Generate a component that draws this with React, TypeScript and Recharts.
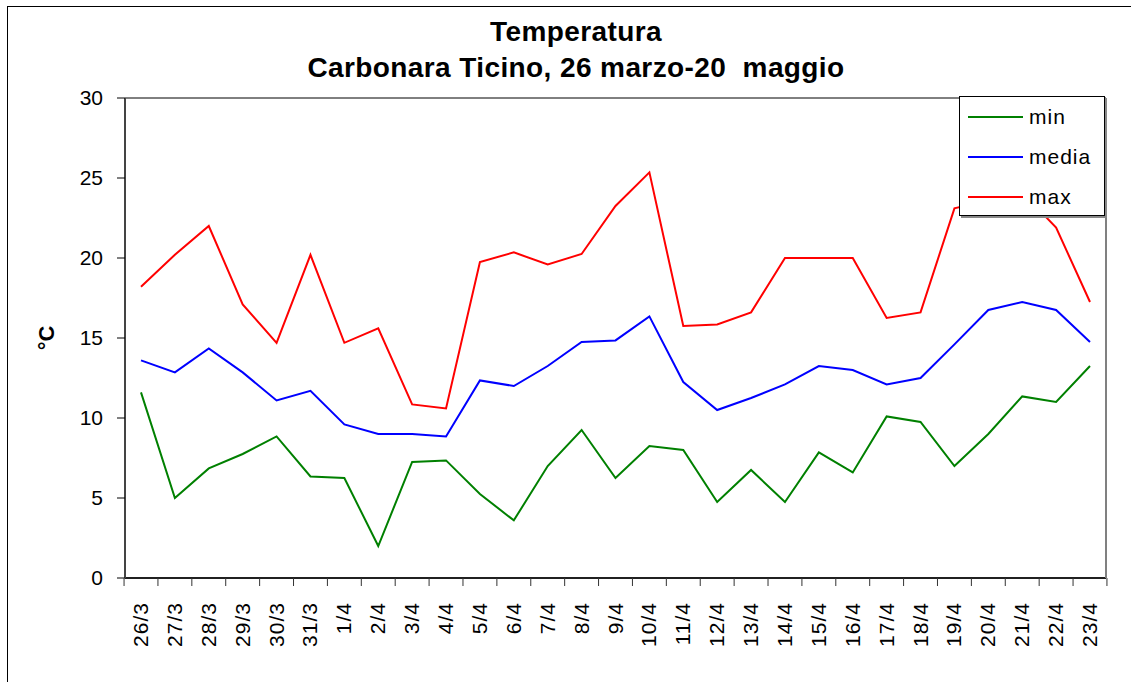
import { CartesianGrid, Legend, Line, LineChart, XAxis, YAxis } from 'recharts';

const dates = [
  '26/3', '27/3', '28/3', '29/3', '30/3', '31/3', '1/4', '2/4', '3/4', '4/4',
  '5/4', '6/4', '7/4', '8/4', '9/4', '10/4', '11/4', '12/4', '13/4', '14/4',
  '15/4', '16/4', '17/4', '18/4', '19/4', '20/4', '21/4', '22/4', '23/4',
];
const minTemp = [
  11.6, 5.0, 6.85, 7.75, 8.85, 6.35, 6.25, 2.0, 7.25, 7.35,
  5.25, 3.6, 7.0, 9.25, 6.25, 8.25, 8.0, 4.75, 6.75, 4.75,
  7.85, 6.6, 10.1, 9.75, 7.0, 9.0, 11.35, 11.0, 13.25,
];
const mediaTemp = [
  13.6, 12.85, 14.35, 12.85, 11.1, 11.7, 9.6, 9.0, 9.0, 8.85,
  12.35, 12.0, 13.25, 14.75, 14.85, 16.35, 12.25, 10.5, 11.25, 12.1,
  13.25, 13.0, 12.1, 12.5, 14.6, 16.75, 17.25, 16.75, 14.75,
];
const maxTemp = [
  18.2, 20.2, 22.0, 17.1, 14.7, 20.2, 14.7, 15.6, 10.85, 10.6,
  19.75, 20.35, 19.6, 20.25, 23.25, 25.35, 15.75, 15.85, 16.6, 20.0,
  20.0, 20.0, 16.25, 16.6, 23.1, 23.6, 24.1, 21.9, 17.25,
];
const yTicks = [0, 5, 10, 15, 20, 25, 30];

const series = [
  { key: 'min', color: '#008000' },
  { key: 'media', color: '#0000FF' },
  { key: 'max', color: '#FF0000' },
];

const data = dates.map((d, i) => ({ d, min: minTemp[i], media: mediaTemp[i], max: maxTemp[i] }));

const FONT = '"Liberation Sans", Arial, sans-serif';
const PAD = 16;
const HALF = (981 - 2 * PAD) / (dates.length - 1) / 2;

const DateTick = (props: any) => {
  const { x, y, payload } = props;
  const last = payload.value === dates[dates.length - 1];
  return (
    <g>
      <line x1={x - HALF} x2={x - HALF} y1={y - 10} y2={y - 2} stroke="#333" />
      {last && <line x1={x + HALF} x2={x + HALF} y1={y - 10} y2={y - 2} stroke="#333" />}
      <text
        transform={`translate(${x + 7},${y + 14}) rotate(-90)`}
        textAnchor="end"
        fontSize={21}
        letterSpacing={1}
        fill="#000"
        fontFamily={FONT}
      >
        {payload.value}
      </text>
    </g>
  );
};

const LegendBox = () => (
  <div
    style={{
      width: 144,
      height: 118,
      background: '#fff',
      border: '1px solid #000',
      boxShadow: '2px 2px 0 #888',
      fontFamily: FONT,
      fontSize: 21,
      letterSpacing: 1,
    }}
  >
    {series.map((s, i) => (
      <div key={s.key} style={{ position: 'absolute', left: 9, top: 9 + i * 40, height: 24, display: 'flex', alignItems: 'center' }}>
        <div style={{ width: 55, height: 2, background: s.color }} />
        <span style={{ marginLeft: 6, lineHeight: '24px' }}>{s.key}</span>
      </div>
    ))}
  </div>
);

export default function App() {
  return (
    <div style={{ position: 'absolute', left: 0, top: 0, width: 1131, height: 682, overflow: 'hidden', background: '#fff', fontFamily: FONT }}>
      <div style={{ position: 'absolute', left: 7, top: 6, width: 1200, height: 800, border: '1px solid #000' }} />
      <div style={{ position: 'absolute', left: 0, width: 1152, top: 14, textAlign: 'center', fontWeight: 'bold', fontSize: 28, letterSpacing: 0.4, lineHeight: '36px' }}>
        Temperatura
        <br />
        Carbonara Ticino, 26 marzo-20&nbsp; maggio
      </div>
      <LineChart width={1131} height={682} data={data} margin={{ top: 98, right: 0, left: 0, bottom: 0 }}>
        <CartesianGrid vertical={false} stroke="#000" strokeWidth={1} />
        <XAxis
          dataKey="d"
          height={104}
          padding={{ left: PAD, right: PAD }}
          interval={0}
          tickSize={8}
          tickLine={false}
          axisLine={{ stroke: '#000', strokeWidth: 1.5 }}
          tick={<DateTick />}
        />
        <YAxis
          yAxisId="left"
          width={125}
          domain={[0, 30]}
          ticks={yTicks}
          interval={0}
          tickSize={8}
          tickMargin={14}
          axisLine={{ stroke: '#444', strokeWidth: 2 }}
          tickLine={{ stroke: '#000' }}
          tick={{ fontSize: 21, fill: '#000', fontFamily: FONT }}
          label={{
            position: 'insideLeft',
            content: (p: any) => {
              const vb = p.viewBox || { x: 0, y: 98, height: 480 };
              const cx = vb.x + 46;
              const cy = vb.y + vb.height / 2;
              return (
                <text x={cx} y={cy} transform={`rotate(-90, ${cx}, ${cy})`} textAnchor="middle" dominantBaseline="central" fontWeight="bold" fontSize={22} fontFamily={FONT} fill="#000">
                  °C
                </text>
              );
            },
          }}
        />
        <YAxis yAxisId="right" orientation="right" width={25} domain={[0, 30]} ticks={yTicks} tick={false} tickLine={false} axisLine={{ stroke: '#808080', strokeWidth: 2 }} />
        {series.map(s => (
          <Line
            key={s.key}
            yAxisId="left"
            type="linear"
            dataKey={s.key}
            name={s.key}
            stroke={s.color}
            strokeWidth={2}
            dot={false}
            activeDot={false}
            isAnimationActive={false}
          />
        ))}
        <Legend
          layout="vertical"
          align="center"
          verticalAlign="middle"
          wrapperStyle={{ left: 959, top: 96, width: 146, height: 120 }}
          content={<LegendBox />}
        />
      </LineChart>
    </div>
  );
}
